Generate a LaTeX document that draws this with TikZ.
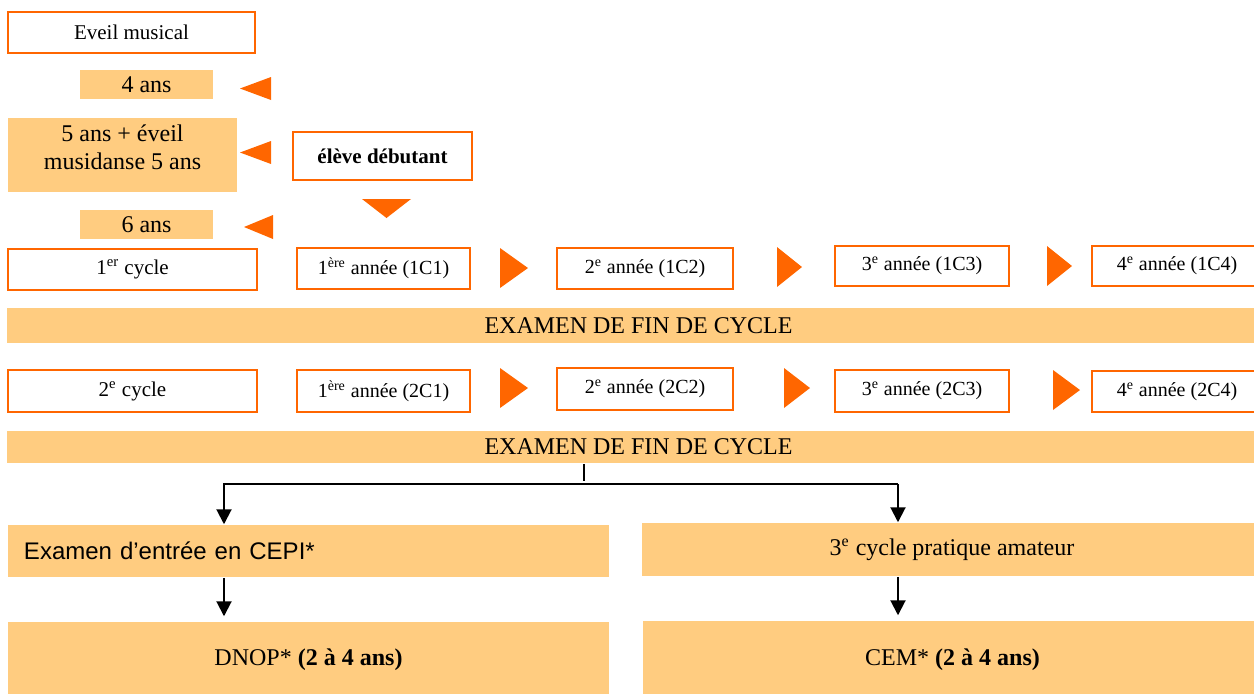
\documentclass[tikz,border=0pt]{standalone}
\usepackage{fontspec}
\setmainfont{Liberation Serif}
\newfontfamily\arialfont{Liberation Sans}
\usetikzlibrary{arrows.meta}

\definecolor{peach}{RGB}{255,204,128}
\definecolor{orangeline}{RGB}{255,102,0}

\tikzset{every picture/.style={line width=0.75pt}}
\tikzset{
  linebox/.style={draw=orangeline, line width=1pt, fill=white, inner sep=0pt, font=\fontsize{10.5}{12}\selectfont},
  yearbox/.style={linebox, font=\fontsize{10}{12}\selectfont},
  peachbox/.style={fill=peach, inner sep=0pt, font=\fontsize{12}{14}\selectfont},
  tri/.style={fill=orangeline},
  arr/.style={line width=1pt, -{Triangle[length=7.5pt,width=7.5pt]}}
}

\begin{document}
\begin{tikzpicture}[x=0.5pt,y=0.5pt,yscale=-1,xscale=1]
\useasboundingbox (0,0) rectangle (1254,693);
\clip (0,0) rectangle (1254,693);

%Flowchart: Process [eveil]
\node[linebox, minimum width=123.5pt, minimum height=20.5pt] (eveil) at (131.5,32.5) {Eveil musical};
%Flowchart: Process [ages]
\node[peachbox, minimum width=66.5pt, minimum height=14.5pt] (ans4) at (146.5,84.5) {4 ans};
\node[peachbox, minimum width=114.5pt, minimum height=37pt] (ans5) at (122.5,155) {};
% Text Node
\node[peachbox, fill=none, align=center] (ans5txt) at (122.5,147) {5 ans + éveil\\musidanse 5 ans};
\node[peachbox, minimum width=66.5pt, minimum height=14.5pt] (ans6) at (146.5,224.5) {6 ans};
%Flowchart: Process [eleve]
\node[linebox, minimum width=89.5pt, minimum height=24pt, font=\fontsize{10.5}{12}\selectfont\bfseries] (eleve) at (382.5,156) {élève débutant};

%Triangles
\fill[tri] (271,77) -- (240,88.5) -- (271,100) -- cycle;
\fill[tri] (271,141) -- (240,152.5) -- (271,164) -- cycle;
\fill[tri] (273,215) -- (244,227) -- (273,239) -- cycle;
\fill[tri] (362,199) -- (411,199) -- (386.5,218) -- cycle;

%Flowchart: Process [1er cycle]
\node[linebox, minimum width=124.5pt, minimum height=20.5pt] (cyc1) at (132.5,269.5) {1\textsuperscript{er} cycle};
\node[yearbox, minimum width=86.5pt, minimum height=20.5pt] (an11) at (383.5,268.5) {1\textsuperscript{ère} année (1C1)};
\node[yearbox, minimum width=88pt, minimum height=20.5pt] (an12) at (645,268.5) {2\textsuperscript{e} année (1C2)};
\node[yearbox, minimum width=87pt, minimum height=20pt] (an13) at (922,266) {3\textsuperscript{e} année (1C3)};
\node[yearbox, minimum width=85pt, minimum height=20pt] (an14) at (1177,266) {4\textsuperscript{e} année (1C4)};
\fill[tri] (500,248) -- (528,268) -- (500,288) -- cycle;
\fill[tri] (777,247) -- (802,267) -- (777,287) -- cycle;
\fill[tri] (1047,246) -- (1072,266) -- (1047,286) -- cycle;

%Flowchart: Process [examen 1]
\node[peachbox, minimum width=631.5pt, minimum height=17.5pt] (exam1) at (638.5,325.5) {EXAMEN DE FIN DE CYCLE};

%Flowchart: Process [2e cycle]
\node[linebox, minimum width=124.5pt, minimum height=21pt] (cyc2) at (132.5,391) {2\textsuperscript{e} cycle};
\node[yearbox, minimum width=86.5pt, minimum height=21pt] (an21) at (383.5,391) {1\textsuperscript{ère} année (2C1)};
\node[yearbox, minimum width=88pt, minimum height=21pt] (an22) at (645,389) {2\textsuperscript{e} année (2C2)};
\node[yearbox, minimum width=87pt, minimum height=21pt] (an23) at (922,391) {3\textsuperscript{e} année (2C3)};
\node[yearbox, minimum width=85pt, minimum height=20.5pt] (an24) at (1177,391.5) {4\textsuperscript{e} année (2C4)};
\fill[tri] (500,368) -- (528,388) -- (500,408) -- cycle;
\fill[tri] (784,368) -- (810,388) -- (784,408) -- cycle;
\fill[tri] (1053,370) -- (1080,390) -- (1053,410) -- cycle;

%Flowchart: Process [examen 2]
\node[peachbox, minimum width=631.5pt, minimum height=16pt] (exam2) at (638.5,447) {EXAMEN DE FIN DE CYCLE};

%Flowchart: Process [suite]
\node[peachbox, minimum height=26pt, text width=284.5pt, inner xsep=8pt, align=left, font=\arialfont\fontsize{12}{14}\selectfont] (cepi) at (308.5,551) {Examen d’entrée en CEPI*};
\node[peachbox, minimum width=310pt, minimum height=26.5pt] (amat) at (952,549.5) {3\textsuperscript{e} cycle pratique amateur};
\node[peachbox, minimum width=300.5pt, minimum height=38pt] (dnop) at (308.5,660) {DNOP* \textbf{(2 à 4 ans)}};
\node[peachbox, minimum width=309.5pt, minimum height=38.5pt] (cem) at (952.5,659.5) {CEM* \textbf{(2 à 4 ans)}};

%Straight Lines
\coordinate (split) at (584,481);
\coordinate (bl) at (224,484);
\coordinate (br) at (898,484);
\draw[line width=1pt] (exam2.south -| split) -- (split);
\draw[arr] (br) -- (bl) -- (bl |- cepi.north);
\draw[arr] (br) -- (br |- amat.north);
\draw[arr, shorten >=2.5pt] (bl |- cepi.south) -- (bl |- dnop.north);
\draw[arr, shorten >=2.5pt] (br |- amat.south) -- (br |- cem.north);

\end{tikzpicture}
\end{document}
